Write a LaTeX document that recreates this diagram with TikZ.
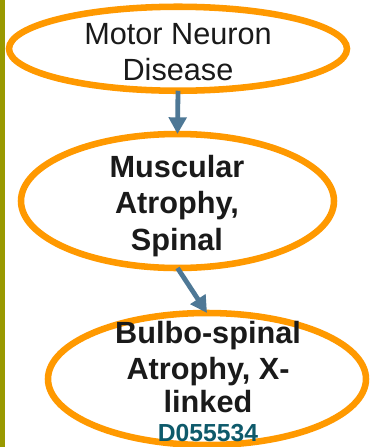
\documentclass[tikz,border=0pt]{standalone}
\usepackage{fontspec}
\setmainfont{Liberation Sans}
\usetikzlibrary{shapes.geometric,arrows.meta}
\definecolor{orng}{HTML}{FF9900}
\definecolor{arrowblue}{HTML}{4E7896}
\definecolor{barolive}{HTML}{999900}
\definecolor{codeteal}{HTML}{0E5A6B}
\definecolor{txt}{HTML}{1A1A1A}
\tikzset{
  oval/.style={ellipse, draw=orng, line width=4.9pt, fill=white, inner sep=0pt, outer sep=0pt},
  linkarrow/.style={draw=arrowblue, line width=3.6pt, -{Triangle[length=12.5pt,width=13pt]}},
  lbl/.style={anchor=base, inner sep=0pt, text=txt, font=\fontsize{23}{27}\selectfont},
  blbl/.style={lbl, font=\fontsize{23}{27}\selectfont\bfseries},
  code/.style={anchor=base, inner sep=0pt, text=codeteal, font=\fontsize{18.5}{22}\selectfont\bfseries}
}
\begin{document}
\begin{tikzpicture}[x=0.75pt,y=-0.75pt]
\useasboundingbox (0,0) rectangle (372,447);
\clip (0,0) rectangle (372,447);
\fill[white] (0,0) rectangle (372,447);
\fill[barolive] (0,0) rectangle (5,447);

\node[oval, minimum width=253.5pt, minimum height=63pt] (e1) at (178,48.75) {};
\node[oval, minimum width=234.75pt, minimum height=100.5pt] (e2) at (177.5,201) {};
\node[oval, minimum width=238.5pt, minimum height=99pt] (e3) at (207,379) {};

\draw[linkarrow] (e1.south) -- (e2.north);
\draw[linkarrow] (e2.south) -- (e3.north);

\node[lbl] (t1a) at (178,44) {Motor Neuron};
\node[lbl] (t1b) at (178,80) {Disease};

\node[blbl] (t2a) at (177,177) {Muscular};
\node[blbl] (t2b) at (177,213) {Atrophy,};
\node[blbl] (t2c) at (177,250) {Spinal};

\node[blbl] (t3a) at (208,343) {Bulbo-spinal};
\node[blbl] (t3b) at (208,379) {Atrophy, X-};
\node[blbl] (t3c) at (208,412) {linked};
\node[code] (t3d) at (208,441) {D055534};
\end{tikzpicture}
\end{document}
